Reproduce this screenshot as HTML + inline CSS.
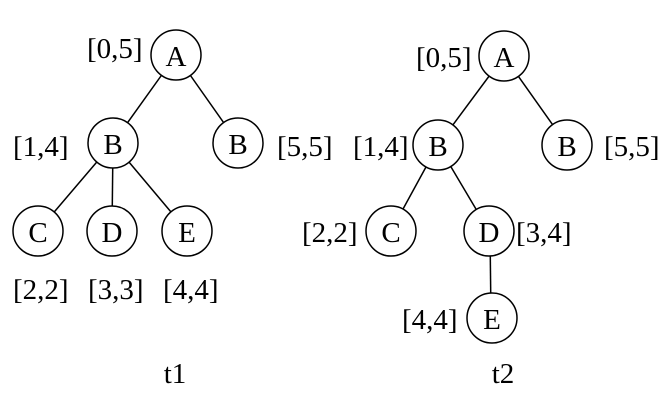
<!DOCTYPE html>
<html><head><style>
html,body{margin:0;padding:0;background:#fff;}
svg{display:block;}
text{font-family:"Liberation Serif",serif;font-size:29px;fill:#000;}
</style></head><body>
<svg width="669" height="401" viewBox="0 0 669 401">
<g stroke="#000" stroke-width="1.5" fill="none">
<line x1="176" y1="55" x2="113" y2="143"/>
<line x1="176" y1="55" x2="238" y2="143"/>
<line x1="113" y1="143" x2="38" y2="231"/>
<line x1="113" y1="143" x2="112" y2="231"/>
<line x1="113" y1="143" x2="187" y2="231"/>
<line x1="504" y1="56" x2="438" y2="145"/>
<line x1="504" y1="56" x2="567" y2="145"/>
<line x1="438" y1="145" x2="391" y2="231"/>
<line x1="438" y1="145" x2="489" y2="231"/>
<line x1="490" y1="231" x2="491" y2="318"/>
</g>
<g stroke="#000" stroke-width="1.5" fill="#fff">
<circle cx="176" cy="55" r="25"/>
<circle cx="113" cy="143" r="25"/>
<circle cx="238" cy="143" r="25"/>
<circle cx="38" cy="231" r="25"/>
<circle cx="112" cy="231" r="25"/>
<circle cx="187" cy="231" r="25"/>
<circle cx="504" cy="56" r="25"/>
<circle cx="438" cy="145" r="25"/>
<circle cx="567" cy="145" r="25"/>
<circle cx="391" cy="231" r="25"/>
<circle cx="489" cy="231" r="25"/>
<circle cx="492" cy="318" r="25"/>
</g>
<g text-anchor="middle">
<text x="176" y="66">A</text>
<text x="113" y="154">B</text>
<text x="238" y="154">B</text>
<text x="38" y="242">C</text>
<text x="112" y="242">D</text>
<text x="187" y="242">E</text>
<text x="504" y="67">A</text>
<text x="438" y="156">B</text>
<text x="567" y="156">B</text>
<text x="391" y="242">C</text>
<text x="489" y="242">D</text>
<text x="492" y="329">E</text>
<text x="175" y="383">t1</text>
<text x="503" y="383">t2</text>
</g>
<g>
<text x="87" y="58">[0,5]</text>
<text x="13" y="156">[1,4]</text>
<text x="277" y="156">[5,5]</text>
<text x="13" y="299">[2,2]</text>
<text x="88" y="299">[3,3]</text>
<text x="163" y="299">[4,4]</text>
<text x="416" y="67">[0,5]</text>
<text x="353" y="156">[1,4]</text>
<text x="604" y="156">[5,5]</text>
<text x="302" y="242">[2,2]</text>
<text x="516" y="242">[3,4]</text>
<text x="402" y="329">[4,4]</text>
</g>
</svg>
</body></html>
